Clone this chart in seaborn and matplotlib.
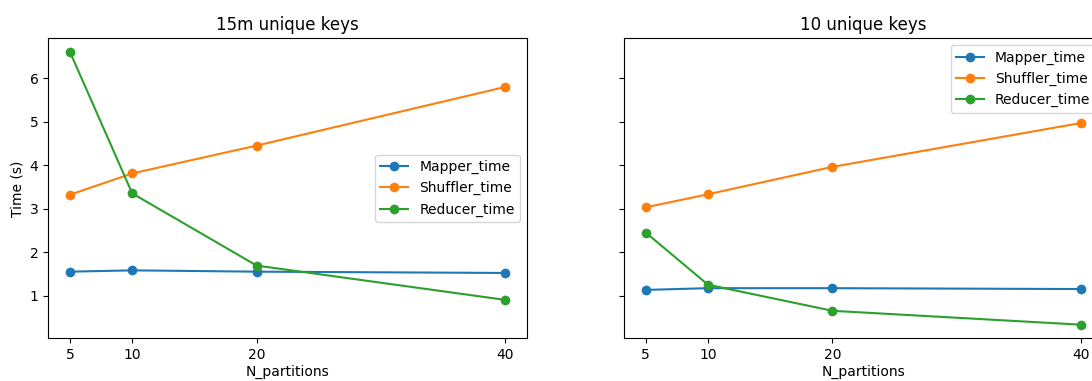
import numpy as np
import pandas as pd
import matplotlib
matplotlib.use("Agg")
import matplotlib.pyplot as plt
import seaborn as sns

partitions = [5, 10, 20, 40]
metrics = ["Mapper_time", "Shuffler_time", "Reducer_time"]

# 15m unique keys
mapper_15m = [1.55, 1.58, 1.55, 1.52]
shuffler_15m = [3.32, 3.81, 4.45, 5.80]
reducer_15m = [6.60, 3.35, 1.69, 0.90]

# 10 unique keys
mapper_10 = [1.13, 1.17, 1.17, 1.15]
shuffler_10 = [3.03, 3.33, 3.96, 4.97]
reducer_10 = [2.45, 1.25, 0.65, 0.33]


def to_long(mapper, shuffler, reducer):
    rows = []
    for name, vals in zip(metrics, [mapper, shuffler, reducer]):
        for p, v in zip(partitions, vals):
            rows.append({"N_partitions": p, "time": v, "metric": name})
    return pd.DataFrame(rows)


df_15m = to_long(mapper_15m, shuffler_15m, reducer_15m)
df_10 = to_long(mapper_10, shuffler_10, reducer_10)

fig = plt.figure(figsize=(10.92, 3.81), dpi=100)
ax1 = fig.add_axes([0.0442, 0.112, 0.4386, 0.787])
ax2 = fig.add_axes([0.5714, 0.112, 0.4386, 0.787], sharey=ax1)

pal = sns.color_palette("tab10", 3)

def draw(ax, df, title, loc):
    sns.lineplot(data=df, x="N_partitions", y="time", hue="metric",
                 hue_order=metrics, palette=pal, marker="o",
                 markersize=7, markeredgewidth=0, linewidth=1.5, ax=ax)
    ax.set_title(title, fontsize=12)
    ax.set_xticks(partitions)
    ax.set_xlabel("N_partitions", labelpad=2)
    h, l = ax.get_legend_handles_labels()
    ax.legend(h, l, loc=loc)

draw(ax1, df_15m, "15m unique keys", "center right")
draw(ax2, df_10, "10 unique keys", "upper right")

ax1.set_ylabel("Time (s)")
ax2.set_ylabel("")
ax2.tick_params(labelleft=False)

fig.savefig("out.png", dpi=100)
